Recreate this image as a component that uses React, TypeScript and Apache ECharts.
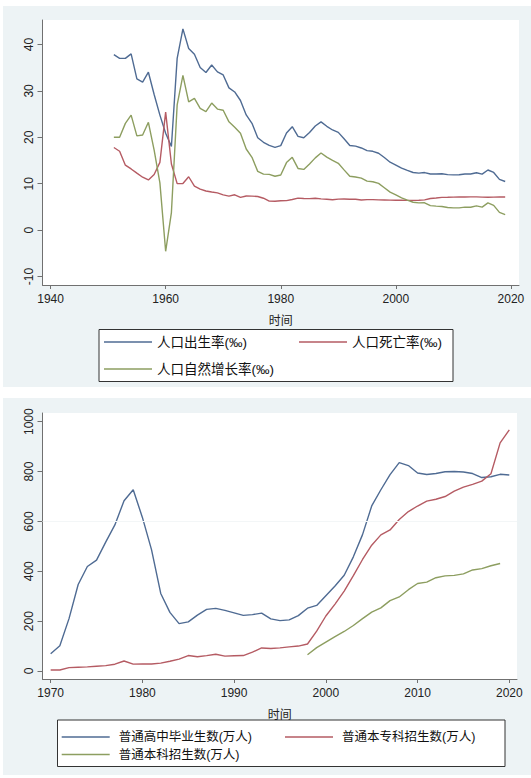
import React, { useEffect, useRef } from "react";
import * as echarts from "echarts";

function range(a: number, b: number): number[] {
  const r: number[] = [];
  for (let y = a; y <= b; y++) r.push(y);
  return r;
}

// ---- Top chart: population rates (‰) ----
const popYears = range(1951, 2019);
const birthRate = [
  37.8, 37.0, 37.0, 37.97, 32.6, 31.9, 34.03, 29.22, 24.78, 20.86,
  18.02, 37.01, 43.37, 39.14, 37.88, 35.05, 33.96, 35.59, 34.11, 33.43,
  30.65, 29.77, 27.93, 24.82, 23.01, 19.91, 18.93, 18.25, 17.82, 18.21,
  20.91, 22.28, 20.19, 19.9, 21.04, 22.43, 23.33, 22.37, 21.58, 21.06,
  19.68, 18.24, 18.09, 17.7, 17.12, 16.98, 16.57, 15.64, 14.64, 14.03,
  13.38, 12.86, 12.41, 12.29, 12.4, 12.09, 12.1, 12.14, 11.95, 11.9,
  11.93, 12.1, 12.08, 12.37, 12.07, 12.95, 12.43, 10.94, 10.48,
];
const deathRate = [
  17.8, 17.0, 14.0, 13.18, 12.28, 11.4, 10.8, 11.98, 14.59, 25.43,
  14.24, 10.02, 10.04, 11.5, 9.5, 8.83, 8.43, 8.21, 8.03, 7.6,
  7.32, 7.61, 7.04, 7.34, 7.32, 7.25, 6.87, 6.25, 6.21, 6.34,
  6.36, 6.6, 6.9, 6.82, 6.78, 6.86, 6.72, 6.64, 6.54, 6.67,
  6.7, 6.64, 6.64, 6.49, 6.57, 6.56, 6.51, 6.5, 6.46, 6.45,
  6.43, 6.41, 6.4, 6.42, 6.51, 6.81, 6.93, 7.06, 7.08, 7.11,
  7.14, 7.15, 7.16, 7.16, 7.11, 7.09, 7.11, 7.13, 7.14,
];
const growthRate = [
  20.0, 20.0, 23.0, 24.79, 20.32, 20.5, 23.23, 17.24, 10.19, -4.57,
  3.78, 26.99, 33.33, 27.64, 28.38, 26.22, 25.53, 27.38, 26.08, 25.83,
  23.33, 22.16, 20.89, 17.48, 15.69, 12.66, 12.06, 12.0, 11.61, 11.87,
  14.55, 15.68, 13.29, 13.08, 14.26, 15.57, 16.61, 15.73, 15.04, 14.39,
  12.98, 11.6, 11.45, 11.21, 10.55, 10.42, 10.06, 9.14, 8.18, 7.58,
  6.95, 6.45, 6.01, 5.87, 5.89, 5.28, 5.17, 5.08, 4.87, 4.79,
  4.79, 4.95, 4.92, 5.21, 4.96, 5.86, 5.32, 3.81, 3.34,
];
const popXTicks = [1940, 1960, 1980, 2000, 2020];
const popYTicks = [-10, 0, 10, 20, 30, 40];

// ---- Bottom chart: education (万人) ----
const eduYears = range(1970, 2020);
const hsGrad = [
  69, 101, 210, 347, 419, 445, 517, 586, 683, 727,
  616, 486, 311, 235, 190, 197, 224, 247, 251, 243,
  233, 223, 226, 232, 209, 202, 205, 222, 252, 263,
  302, 341, 384, 458, 547, 662, 727, 788, 836, 824,
  794, 788, 792, 799, 800, 798, 792, 776, 779, 789, 786,
];
const hiEnroll = [
  4.2, 4.2, 13.4, 15.0, 16.5, 19.1, 21.7, 27.3, 40.2, 27.5,
  28.1, 27.9, 31.5, 39.1, 47.5, 61.9, 57.2, 61.7, 67.0, 59.7,
  60.9, 62.0, 75.4, 92.4, 90.0, 92.6, 96.6, 100.0, 108.4, 159.7,
  220.6, 268.3, 320.5, 382.2, 447.3, 504.5, 546.1, 565.9, 607.7, 639.5,
  661.8, 681.5, 688.8, 699.8, 721.4, 737.8, 748.6, 761.5, 791.0, 914.9, 967.5,
];
const ugYears = range(1998, 2019);
const ugEnroll = [
  65.3, 93.6, 116.0, 138.2, 158.5, 182.5, 209.9, 236.4, 253.1, 282.1,
  297.1, 326.1, 351.1, 356.6, 374.1, 381.4, 383.4, 389.4, 405.4, 410.7,
  422.2, 431.3,
];
const eduXTicks = [1970, 1980, 1990, 2000, 2010, 2020];
const eduYTicks = [0, 200, 400, 600, 800, 1000];

const names = {
  birth: "人口出生率(‰)",
  death: "人口死亡率(‰)",
  growth: "人口自然增长率(‰)",
  hs: "普通高中毕业生数(万人)",
  hi: "普通本专科招生数(万人)",
  ug: "普通本科招生数(万人)",
};

const BLUE = "#4f6b93";
const RED = "#b55b63";
const GREEN = "#8d9e60";
const PANEL = "#edf3f5";
const AXIS = "#707070";
const FONT = '"Liberation Sans", "Noto Sans CJK SC", sans-serif';

function pairs(xs: number[], ys: number[]) {
  return xs.map((x, i) => [x, ys[i]]);
}

const plain = (v: number) => String(v);

function xAxisCfg(gridIndex: number, min: number, max: number, ticks: number[]) {
  return {
    type: "value",
    gridIndex,
    min,
    max,
    name: "时间",
    nameLocation: "middle",
    nameGap: 30,
    nameTextStyle: { color: "#222", fontSize: 12, fontFamily: FONT },
    axisLine: { show: true, onZero: false, lineStyle: { color: AXIS, width: 1 } },
    axisTick: { show: true, length: 4, customValues: ticks, lineStyle: { color: AXIS } },
    axisLabel: {
      customValues: ticks,
      formatter: plain,
      color: "#222",
      fontSize: 12,
      fontFamily: FONT,
      margin: 8,
      showMinLabel: true,
      showMaxLabel: true,
    },
    splitLine: { show: false },
  };
}

function yAxisCfg(gridIndex: number, min: number, max: number, ticks: number[]) {
  return {
    type: "value",
    gridIndex,
    min,
    max,
    axisLine: { show: true, onZero: false, lineStyle: { color: AXIS, width: 1 } },
    axisTick: { show: true, length: 5, customValues: ticks, lineStyle: { color: AXIS } },
    axisLabel: {
      customValues: ticks,
      formatter: plain,
      rotate: 90,
      color: "#222",
      fontSize: 12,
      fontFamily: FONT,
      margin: 8,
    },
    splitLine: { show: false },
  };
}

function lineSeries(name: string, color: string, data: number[][], xi: number, yi: number, extra: any = {}) {
  return {
    type: "line",
    name,
    xAxisIndex: xi,
    yAxisIndex: yi,
    data,
    color,
    showSymbol: false,
    symbol: "none",
    lineStyle: { color, width: 1.4 },
    ...extra,
  };
}

function legendCfg(name: string, left: number, top: number, fontSize: number, textPad: number) {
  return {
    show: true,
    left,
    top,
    padding: 0,
    orient: "horizontal",
    selectedMode: false,
    data: [name],
    icon: "rect",
    itemWidth: 48,
    itemHeight: 1.4,
    textStyle: {
      color: "#111",
      fontSize,
      fontFamily: FONT,
      lineHeight: 16,
      padding: [0, 0, 0, textPad],
    },
  };
}

export default function App() {
  const ref = useRef<HTMLDivElement>(null);
  useEffect(() => {
    if (!ref.current) return;
    const chart = echarts.init(ref.current, undefined, { renderer: "svg" });
    chart.setOption({
      animation: false,
      backgroundColor: "#ffffff",
      graphic: [
        { type: "rect", z: -10, shape: { x: 3, y: 6, width: 528, height: 381 }, style: { fill: PANEL } },
        { type: "rect", z: -10, shape: { x: 3, y: 398, width: 528, height: 377 }, style: { fill: PANEL } },
        { type: "rect", z: -5, shape: { x: 99, y: 329.5, width: 354, height: 52 }, style: { fill: "#fff", stroke: "#333", lineWidth: 1 } },
        { type: "rect", z: -5, shape: { x: 57.5, y: 720, width: 447.5, height: 46.5 }, style: { fill: "#fff", stroke: "#333", lineWidth: 1 } },
      ],
      grid: [
        { left: 42.5, top: 20, width: 476.5, height: 265, show: true, backgroundColor: "#fff", borderWidth: 0 },
        { left: 42.5, top: 413, width: 474.5, height: 266, show: true, backgroundColor: "#fff", borderWidth: 0 },
      ],
      xAxis: [
        xAxisCfg(0, 1938.6, 2021.4, popXTicks),
        xAxisCfg(1, 1969.11, 2020.84, eduXTicks),
      ],
      yAxis: [
        yAxisCfg(0, -11.83, 45.28, popYTicks),
        yAxisCfg(1, -32.1, 1034.9, eduYTicks),
      ],
      legend: [
        legendCfg(names.birth, 104, 334, 13.5, 0),
        legendCfg(names.death, 299, 334, 13.5, 0),
        legendCfg(names.growth, 104, 361, 13.5, 0),
        legendCfg(names.hs, 61.7, 729, 12.5, 4),
        legendCfg(names.hi, 285, 729, 12.5, 4),
        legendCfg(names.ug, 61.7, 746.5, 12.5, 4),
      ],
      series: [
        lineSeries(names.birth, BLUE, pairs(popYears, birthRate), 0, 0),
        lineSeries(names.death, RED, pairs(popYears, deathRate), 0, 0),
        lineSeries(names.growth, GREEN, pairs(popYears, growthRate), 0, 0),
        lineSeries(names.hs, BLUE, pairs(eduYears, hsGrad), 1, 1, {
          markLine: {
            silent: true,
            symbol: "none",
            label: { show: false },
            lineStyle: { color: "#f3f6f7", width: 1, type: "solid" },
            data: [{ yAxis: 600 }],
          },
        }),
        lineSeries(names.hi, RED, pairs(eduYears, hiEnroll), 1, 1),
        lineSeries(names.ug, GREEN, pairs(ugYears, ugEnroll), 1, 1),
      ],
    });
    return () => chart.dispose();
  }, []);
  return (
    <div
      ref={ref}
      style={{ position: "fixed", left: 0, top: 0, width: 531, height: 778 }}
    />
  );
}
